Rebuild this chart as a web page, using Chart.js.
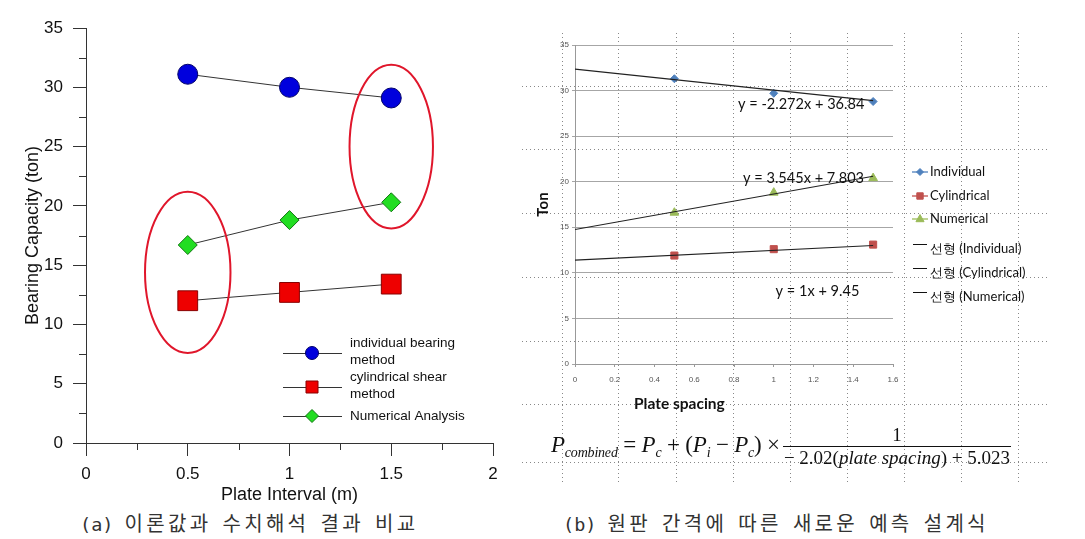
<!DOCTYPE html>
<html lang="ko">
<head>
<meta charset="utf-8">
<title>Plate interval vs bearing capacity</title>
<script src="https://cdn.jsdelivr.net/npm/chart.js@4.4.1/dist/chart.umd.min.js"></script>
<style>
html, body { margin: 0; padding: 0; background: #fff; }
#page { position: relative; width: 1085px; height: 539px; overflow: hidden; }
canvas { position: absolute; z-index: 1; }
#chartA { left: 0; top: 0; }
#chartB { left: 525px; top: 20px; }
.dotH { position: absolute; height: 1px; z-index: 0;
  background-image: linear-gradient(to right, #888 0 1px, transparent 1px); background-size: 4px 1px; }
.dotV { position: absolute; width: 1px; z-index: 0;
  background-image: linear-gradient(to bottom, #888 0 1px, transparent 1px); background-size: 1px 4px; }
.caption { position: absolute; top: 508px; color: #333; white-space: nowrap;
  font-family: "DejaVu Sans Mono", monospace; font-size: 18.5px; line-height: 30px; }
.caption .k { font-family: "Noto Sans CJK KR", sans-serif; font-size: 20px; letter-spacing: 3.3px; }
#xlabelB { position: absolute; left: 634px; top: 394px; z-index: 2;
  font-family: Lato, sans-serif; font-weight: bold; font-size: 15.5px; color: #111; }
#formula { position: absolute; left: 551px; top: 420px; height: 52px; z-index: 2;
  display: flex; align-items: center; white-space: nowrap;
  font-family: "Liberation Serif", serif; color: #111; }
#formula .lhs { font-size: 23px; letter-spacing: -0.2px; }
#formula .lhs sub { font-size: 14px; vertical-align: -5px; }
#formula .frac { display: inline-flex; flex-direction: column; align-items: center; margin-left: 3px; font-size: 19px; }
#formula .frac span { line-height: 22px; }
#formula .den { border-top: 1px solid #111; padding: 0 1px; }
</style>
</head>
<body>
<div id="page">
  <canvas id="chartA" width="540" height="510"></canvas>
  <canvas id="chartB" width="560" height="400"></canvas>
  <div id="xlabelB">Plate spacing</div>
  <div id="formula">
    <span class="lhs"><i>P</i><sub><i>combined</i></sub> = <i>P</i><sub><i>c</i></sub> + (<i>P</i><sub><i>i</i></sub> − <i>P</i><sub><i>c</i></sub>) ×</span>
    <span class="frac"><span class="num">1</span><span class="den">− 2.02(<i>plate spacing</i>) + 5.023</span></span>
  </div>
  <div class="caption" style="left:80px">(a) <span class="k">이론값과</span> <span class="k">수치해석</span> <span class="k">결과</span> <span class="k">비교</span></div>
  <div class="caption" style="left:563px">(b) <span class="k">원판</span> <span class="k">간격에</span> <span class="k">따른</span> <span class="k">새로운</span> <span class="k">예측</span> <span class="k">설계식</span></div>
</div>
<script>
// (a) 이론값과 수치해석 결과 비교
const plateInterval = [0.5, 1.0, 1.5];
const individualBearing = [31.1, 30.0, 29.1];
const cylindricalShear = [12.0, 12.7, 13.4];
const numericalAnalysis = [16.7, 18.8, 20.3];
const legendA = [['individual bearing', 'method'], ['cylindrical shear', 'method'], ['Numerical Analysis']];

// (b) 원판 간격에 따른 새로운 예측 설계식
const plateSpacing = [0.5, 1.0, 1.5];
const individualB = [31.3, 29.7, 28.8];
const cylindricalB = [11.9, 12.6, 13.1];
const numericalB = [16.6, 18.8, 20.4];
// 추세선 (선형) 양 끝값
const trendX = [0, 1.5];
const trendIndividual = [32.35, 28.9];
const trendCylindrical = [11.4, 13.0];
const trendNumerical = [14.75, 20.6];
const trendEquations = ['y = -2.272x + 36.84', 'y = 3.545x + 7.803', 'y = 1x + 9.45'];
const legendB = ['Individual', 'Cylindrical', 'Numerical', '선형 (Individual)', '선형 (Cylindrical)', '선형 (Numerical)'];

// 배경의 점선 격자 (워드 문서 격자)
const dotRowsY = [86, 149, 213, 277, 341, 404, 462];
const dotColsX = [562, 618, 676, 733, 790, 847, 904, 961, 1018];
const page = document.getElementById('page');
for (const y of dotRowsY) {
	const d = document.createElement('div');
	d.className = 'dotH';
	d.style.cssText = `left:522px;width:526px;top:${y}px`;
	page.appendChild(d);
}
for (const x of dotColsX) {
	const d = document.createElement('div');
	d.className = 'dotV';
	d.style.cssText = `top:33px;height:452px;left:${x}px`;
	page.appendChild(d);
}

const pts = (xs, ys) => xs.map((x, i) => ({ x, y: ys[i] }));

// 마커 직접 그리기 (범례용)
function drawMarker(ctx, style, x, y, r, fill, stroke) {
	ctx.save();
	ctx.beginPath();
	if (style === 'circle') ctx.arc(x, y, r, 0, Math.PI * 2);
	else if (style === 'rect') ctx.rect(x - r, y - r, r * 2, r * 2);
	else if (style === 'rectRot') { ctx.moveTo(x, y - r); ctx.lineTo(x + r, y); ctx.lineTo(x, y + r); ctx.lineTo(x - r, y); ctx.closePath(); }
	else if (style === 'triangle') { ctx.moveTo(x, y - r); ctx.lineTo(x + r * 0.9, y + r * 0.6); ctx.lineTo(x - r * 0.9, y + r * 0.6); ctx.closePath(); }
	ctx.fillStyle = fill;
	ctx.fill();
	ctx.strokeStyle = stroke;
	ctx.lineWidth = 1;
	ctx.stroke();
	ctx.restore();
}

const seriesA = [
	{ data: individualBearing, style: 'circle', radius: 10, fill: '#0000dd', stroke: '#00006a', legendR: 6.5 },
	{ data: cylindricalShear, style: 'rect', radius: 14, fill: '#ee0000', stroke: '#880000', legendR: 6 },
	{ data: numericalAnalysis, style: 'rectRot', radius: 9.5, fill: '#22dd22', stroke: '#117711', legendR: 6.5 }
];

// 빨간 타원 강조 + 보조 눈금 + 범례
const extrasA = {
	id: 'extrasA',
	afterDatasetsDraw(chart) {
		const { ctx, scales: { x, y }, chartArea } = chart;
		ctx.save();
		ctx.strokeStyle = '#333';
		ctx.lineWidth = 1;
		ctx.beginPath();
		for (let v = 0.25; v < 2; v += 0.5) {
			const px = Math.round(x.getPixelForValue(v)) + 0.5;
			ctx.moveTo(px, chartArea.bottom); ctx.lineTo(px, chartArea.bottom + 7);
		}
		for (let v = 2.5; v < 35; v += 5) {
			const py = Math.round(y.getPixelForValue(v)) + 0.5;
			ctx.moveTo(chartArea.left, py); ctx.lineTo(chartArea.left - 7, py);
		}
		ctx.stroke();

		// 강조 타원
		ctx.strokeStyle = '#e0162b';
		ctx.lineWidth = 2;
		for (const e of [{ cx: 0.5, cy: 14.4, rx: 0.21, ry: 6.8 }, { cx: 1.5, cy: 25.0, rx: 0.205, ry: 6.9 }]) {
			const cx = x.getPixelForValue(e.cx), cy = y.getPixelForValue(e.cy);
			const rx = x.getPixelForValue(e.cx + e.rx) - cx, ry = cy - y.getPixelForValue(e.cy + e.ry);
			ctx.beginPath();
			ctx.ellipse(cx, cy, rx, ry, 0, 0, Math.PI * 2);
			ctx.stroke();
		}

		// 범례
		const rows = [353, 387, 416];
		ctx.font = '13.5px "Liberation Sans"';
		ctx.fillStyle = '#111';
		ctx.textBaseline = 'middle';
		seriesA.forEach((s, i) => {
			const ly = rows[i];
			ctx.strokeStyle = '#333';
			ctx.lineWidth = 1;
			ctx.beginPath(); ctx.moveTo(283, ly + 0.5); ctx.lineTo(342, ly + 0.5); ctx.stroke();
			drawMarker(ctx, s.style, 312, ly, s.legendR, s.fill, s.stroke);
			const lines = legendA[i];
			const top = lines.length > 1 ? ly - 10 : ly;
			lines.forEach((t, j) => ctx.fillText(t, 350, top + j * 17));
		});
		ctx.restore();
	}
};

new Chart(document.getElementById('chartA'), {
	type: 'scatter',
	data: {
		datasets: seriesA.map(s => ({
			data: pts(plateInterval, s.data),
			showLine: true,
			borderColor: '#333',
			borderWidth: 1,
			pointStyle: s.style,
			pointRadius: s.radius,
			pointBackgroundColor: s.fill,
			pointBorderColor: s.stroke,
			pointBorderWidth: 1
		}))
	},
	options: {
		responsive: false,
		animation: false,
		devicePixelRatio: 1,
		layout: { padding: { top: 28, right: 47, bottom: 0, left: 0 } },
		plugins: { legend: { display: false }, tooltip: { enabled: false } },
		scales: {
			x: {
				type: 'linear', min: 0, max: 2,
				afterFit: s => { s.height = 67; },
				border: { color: '#333', width: 1 },
				grid: { drawOnChartArea: false, color: '#333', tickLength: 13 },
				ticks: { stepSize: 0.5, padding: 8, color: '#111', maxRotation: 0, autoSkip: false,
					font: { family: 'Liberation Sans', size: 17 }, callback: v => String(v) },
				title: { display: true, text: 'Plate Interval (m)', color: '#111',
					font: { family: 'Liberation Sans', size: 18 }, padding: { top: 0, bottom: 4 } }
			},
			y: {
				min: 0, max: 35,
				afterFit: s => { s.width = 86; },
				border: { color: '#333', width: 1 },
				grid: { drawOnChartArea: false, color: '#333', tickLength: 13 },
				ticks: { stepSize: 5, padding: 10, color: '#111', font: { family: 'Liberation Sans', size: 17 } },
				title: { display: true, text: 'Bearing Capacity (ton)', color: '#111',
					font: { family: 'Liberation Sans', size: 18 }, padding: { top: 22, bottom: 0 } }
			}
		}
	},
	plugins: [extrasA]
});

const seriesB = [
	{ data: individualB, trend: trendIndividual, style: 'rectRot', radius: 4, color: '#4f81bd', legendR: 3.5 },
	{ data: cylindricalB, trend: trendCylindrical, style: 'rect', radius: 5, color: '#c0504d', legendR: 3.2 },
	{ data: numericalB, trend: trendNumerical, style: 'triangle', radius: 5, color: '#9bbb59', legendR: 4.5 }
];

// 추세식 라벨 + 범례
const extrasB = {
	id: 'extrasB',
	afterDatasetsDraw(chart) {
		const { ctx, scales: { x, y } } = chart;
		ctx.save();
		ctx.font = '16px Lato';
		ctx.fillStyle = '#111';
		ctx.textAlign = 'center';
		ctx.textBaseline = 'middle';
		const eqPos = [[1.138, 28.5], [1.15, 20.4], [1.22, 8.0]];
		trendEquations.forEach((t, i) => {
			const px = x.getPixelForValue(eqPos[i][0]), py = y.getPixelForValue(eqPos[i][1]);
			ctx.save();
			ctx.translate(px, py);
			ctx.scale(0.91, 1);
			ctx.fillText(t, 0, 0);
			ctx.restore();
		});

		const rows = [152, 176, 199, 229, 253, 277];
		ctx.textAlign = 'left';
		ctx.font = '13px Lato';
		legendB.forEach((t, i) => {
			const ly = rows[i];
			ctx.lineWidth = 1.3;
			if (i < 3) {
				const s = seriesB[i];
				ctx.strokeStyle = s.color;
				ctx.beginPath(); ctx.moveTo(387, ly); ctx.lineTo(403, ly); ctx.stroke();
				drawMarker(ctx, s.style, 395, ly, s.legendR, s.color, s.color);
			} else {
				ctx.strokeStyle = '#111';
				ctx.lineWidth = 1;
				ctx.beginPath(); ctx.moveTo(388, ly - 4.5); ctx.lineTo(402, ly - 4.5); ctx.stroke();
			}
			ctx.fillStyle = '#111';
			ctx.fillText(t, 405, ly);
		});
		ctx.restore();
	}
};

const tickFontB = { family: 'Liberation Sans', size: 8 };
new Chart(document.getElementById('chartB'), {
	type: 'scatter',
	data: {
		datasets: [
			...seriesB.map(s => ({
				data: pts(trendX, s.trend),
				showLine: true, borderColor: '#222', borderWidth: 1.1, pointRadius: 0
			})),
			...seriesB.map(s => ({
				data: pts(plateSpacing, s.data),
				showLine: false,
				pointStyle: s.style,
				pointRadius: s.radius,
				pointBackgroundColor: s.color,
				pointBorderColor: s.color
			}))
		]
	},
	options: {
		responsive: false,
		animation: false,
		devicePixelRatio: 1,
		layout: { padding: { top: 25, right: 192, bottom: 0, left: 0 } },
		plugins: { legend: { display: false }, tooltip: { enabled: false } },
		scales: {
			x: {
				type: 'linear', min: 0, max: 1.6,
				afterFit: s => { s.height = 56; },
				border: { color: '#999', width: 1 },
				grid: { drawOnChartArea: false, color: '#999', tickLength: 3 },
				ticks: { stepSize: 0.2, padding: 8, color: '#555', maxRotation: 0, autoSkip: false,
					font: tickFontB, callback: v => String(+v.toFixed(1)) }
			},
			y: {
				min: 0, max: 35,
				afterFit: s => { s.width = 50; },
				border: { color: '#999', width: 1 },
				grid: { color: '#a6a6a6', tickLength: 3 },
				ticks: { stepSize: 5, padding: 3, color: '#555', font: tickFontB },
				title: { display: true, text: 'Ton', color: '#111',
					font: { family: 'Lato', size: 15, weight: 'bold' }, padding: { top: 9, bottom: 0 } }
			}
		}
	},
	plugins: [extrasB]
});
</script>
</body>
</html>
